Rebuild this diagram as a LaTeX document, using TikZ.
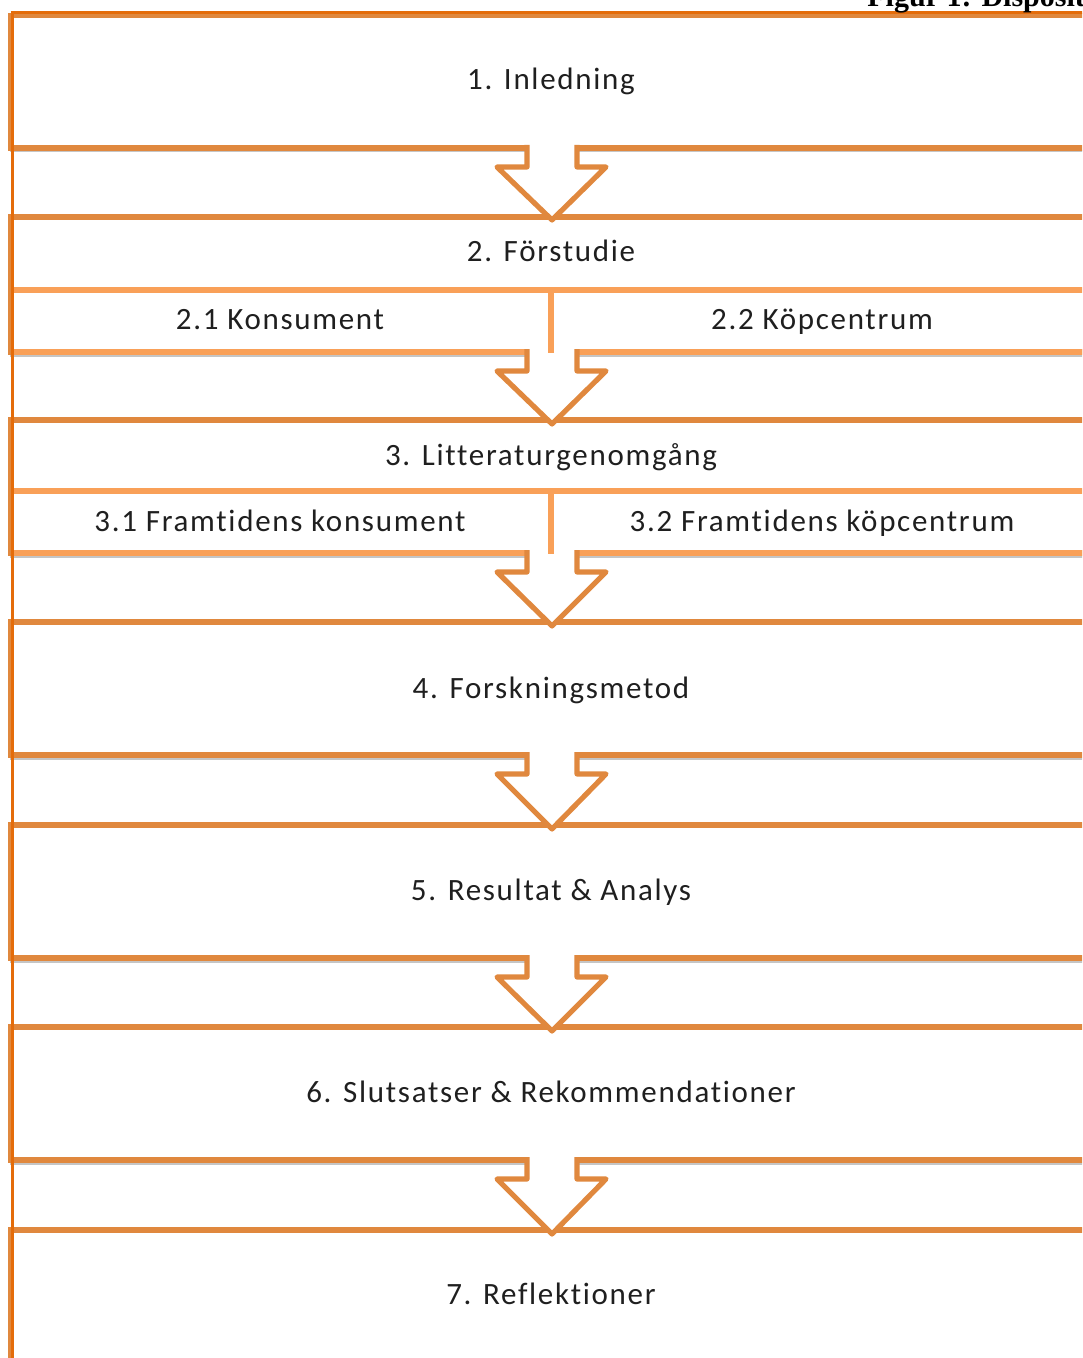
\documentclass[tikz,border=0pt]{standalone}
\usepackage{fontspec}
\setmainfont{Carlito}[Ligatures={NoCommon}, LetterSpace=5.5]
\newfontfamily\titlefont{Liberation Serif}
\definecolor{boxc}{RGB}{224,136,62}
\definecolor{subc}{RGB}{249,160,88}
\definecolor{darkc}{RGB}{228,108,10}
\begin{document}
\begin{tikzpicture}[x=0.5pt,y=-0.5pt,
  boxline/.style={draw=boxc, line width=2.7pt},
  subline/.style={draw=subc, line width=2.7pt},
  shadowline/.style={draw=black!45, opacity=0.5, line width=1pt},
  arrowline/.style={draw=boxc, line width=2.6pt, line join=round},
  lbl/.style={anchor=base, inner sep=0pt, font=\fontsize{15.5}{18}\selectfont, text=black!88}]
\useasboundingbox (0,0) rectangle (1082,1358);
\clip (0,0) rectangle (1082,1358);
% shadows under box bottoms
\foreach \b in {148,352,553,755,958,1160} {
  \draw[shadowline] (10,\b+3.5) -- (1100,\b+3.5);
}
% box 1
\draw[boxline] (10.5,15.5) rectangle (1100,148);
\draw[draw=darkc, line width=1.6pt] (10.5,12.5) -- (1100,12.5);
% box 2
\draw[boxline] (10.5,217) rectangle (1100,352);
\draw[subline] (10.5,290) -- (1100,290);
\draw[subline] (10.5,352) -- (1100,352);
% box 3
\draw[boxline] (10.5,420) rectangle (1100,553);
\draw[subline] (10.5,491) -- (1100,491);
\draw[subline] (10.5,553) -- (1100,553);
% boxes 4-7
\draw[boxline] (10.5,622) rectangle (1100,755);
\draw[boxline] (10.5,825) rectangle (1100,958);
\draw[boxline] (10.5,1027) rectangle (1100,1160);
\draw[boxline] (10.5,1230) rectangle (1100,1400);
% arrows
\foreach \b/\t in {148/216, 352/420, 553/622, 755/825, 958/1027, 1160/1230} {
  \fill[white] (527,\b-4) -- (527,\b+19) -- (497,\b+19) -- (552,\t+4) -- (606,\b+19) -- (577,\b+19) -- (577,\b-4) -- cycle;
  \draw[arrowline] (527,\b-3) -- (527,\b+19) -- (497,\b+19) -- (552,\t+4) -- (606,\b+19) -- (577,\b+19) -- (577,\b-3);
}
% split lines of the two-part boxes
\draw[subline] (551,290) -- (551,353);
\draw[subline] (551,491) -- (551,554);
% thin dark left line
\draw[draw=darkc, line width=1.5pt] (12,12) -- (12,1360);
% labels
\node[lbl] (n1) at (551,90) {1. Inledning};
\node[lbl] (n2) at (551,262) {2. Förstudie};
\node[lbl] (n21) at (280,329) {2.1 Konsument};
\node[lbl] (n22) at (822,329) {2.2 Köpcentrum};
\node[lbl] (n3) at (551,465) {3. Litteraturgenomgång};
\node[lbl] (n31) at (280,531) {3.1 Framtidens konsument};
\node[lbl] (n32) at (822,531) {3.2 Framtidens köpcentrum};
\node[lbl] (n4) at (551,698) {4. Forskningsmetod};
\node[lbl] (n5) at (551,900) {5. Resultat \& Analys};
\node[lbl] (n6) at (551,1102) {6. Slutsatser \& Rekommendationer};
\node[lbl] (n7) at (551,1304) {7. Reflektioner};
\node[anchor=base west, inner sep=0pt, font=\titlefont\bfseries\fontsize{15}{18}\selectfont] (title) at (867,7) {Figur 1: Disposition};
\end{tikzpicture}
\end{document}
